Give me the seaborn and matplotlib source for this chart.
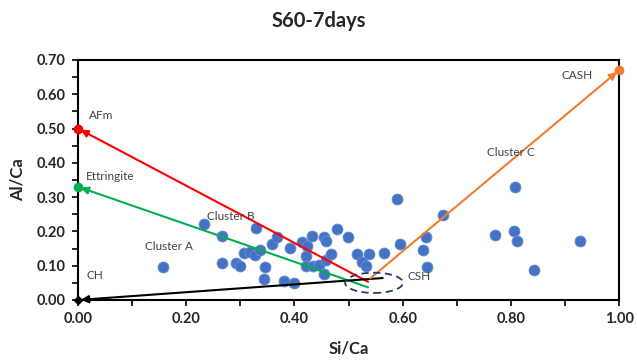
import matplotlib
matplotlib.use("Agg")
import matplotlib.pyplot as plt
from matplotlib.patches import Ellipse
from matplotlib.ticker import MultipleLocator, FormatStrFormatter
import seaborn as sns
import pandas as pd

# EDS spot analyses (Si/Ca, Al/Ca)
si_ca = [0.157, 0.232, 0.266, 0.266, 0.291, 0.299, 0.307, 0.318, 0.327, 0.329,
         0.336, 0.346, 0.344, 0.359, 0.367, 0.381, 0.392, 0.399, 0.414, 0.423,
         0.421, 0.421, 0.432, 0.434, 0.445, 0.455, 0.458, 0.455, 0.458, 0.467,
         0.478, 0.498, 0.516, 0.537, 0.524, 0.532, 0.566, 0.589, 0.595, 0.637,
         0.643, 0.644, 0.675, 0.770, 0.805, 0.808, 0.812, 0.843, 0.928]
al_ca = [0.096, 0.223, 0.187, 0.107, 0.109, 0.098, 0.137, 0.140, 0.131, 0.209,
         0.146, 0.096, 0.062, 0.162, 0.183, 0.056, 0.151, 0.050, 0.170, 0.158,
         0.129, 0.099, 0.187, 0.100, 0.103, 0.184, 0.172, 0.077, 0.117, 0.134,
         0.206, 0.185, 0.134, 0.134, 0.111, 0.100, 0.137, 0.295, 0.163, 0.146,
         0.183, 0.096, 0.248, 0.190, 0.200, 0.330, 0.171, 0.086, 0.171]

# Reference phases: tie lines run from the C-S-H region to each phase
phase_names = ["AFm", "Ettringite", "CH", "CASH"]
phase_x = [0.0, 0.0, 0.0, 1.0]
phase_y = [0.50, 0.33, 0.0, 0.67]
line_start_x = [0.536, 0.536, 0.563, 0.540]
line_start_y = [0.053, 0.037, 0.064, 0.063]
phase_colors = ["#FF0000", "#00B050", "#000000", "#ED7D31"]
phase_markers = ["o", "o", "D", "o"]

# C-S-H region
csh_center = (0.547, 0.050)
csh_size = (0.107, 0.059)

sns.set_style("white")
plt.rcParams["font.family"] = ["Lato", "DejaVu Sans"]

fig = plt.figure(figsize=(6.37, 3.61), dpi=100)
ax = fig.add_axes([0.1225, 0.169, 0.8495, 0.665])

df = pd.DataFrame({"Si/Ca": si_ca, "Al/Ca": al_ca})
sns.scatterplot(data=df, x="Si/Ca", y="Al/Ca", ax=ax, color="#4472C4",
                s=62, edgecolor="#6a8fd3", linewidth=0.6, zorder=3, clip_on=False)

for sx, sy, px, py, c, m in zip(line_start_x, line_start_y, phase_x, phase_y,
                                phase_colors, phase_markers):
    ax.annotate("", xy=(px, py), xytext=(sx, sy),
                arrowprops=dict(arrowstyle="-|>", color=c, lw=1.5,
                                mutation_scale=11, shrinkA=0, shrinkB=2),
                zorder=4, annotation_clip=False)
    ax.plot([px], [py], marker=m, color=c, markersize=6 if m == "o" else 4.5,
            clip_on=False, zorder=5, linestyle="none")

ax.add_patch(Ellipse(csh_center, csh_size[0], csh_size[1], fill=False,
                     edgecolor="#243F66", linestyle=(0, (4, 2.5)), lw=1.3, zorder=4))

label_style = dict(fontsize=8.5, color="#404040", zorder=6)
ax.text(0.021, 0.537, "AFm", va="center", **label_style)
ax.text(0.015, 0.360, "Ettringite", va="center", **label_style)
ax.text(0.015, 0.071, "CH", va="center", **label_style)
ax.text(0.893, 0.656, "CASH", va="center", **label_style)
ax.text(0.608, 0.068, "CSH", va="center", **label_style)
ax.text(0.123, 0.155, "Cluster A", va="center", **label_style)
ax.text(0.238, 0.243, "Cluster B", va="center", **label_style)
ax.text(0.755, 0.430, "Cluster C", va="center", **label_style)

ax.set_xlim(0, 1.0)
ax.set_ylim(0, 0.70)
ax.xaxis.set_major_locator(MultipleLocator(0.2))
ax.xaxis.set_minor_locator(MultipleLocator(0.1))
ax.yaxis.set_major_locator(MultipleLocator(0.1))
ax.yaxis.set_minor_locator(MultipleLocator(0.05))
ax.xaxis.set_major_formatter(FormatStrFormatter("%.2f"))
ax.yaxis.set_major_formatter(FormatStrFormatter("%.2f"))
ax.tick_params(which="both", direction="out", length=4, width=1.2, color="black",
               bottom=True, left=True)
ax.tick_params(which="major", labelsize=10.5, pad=5)
for lab in ax.get_xticklabels() + ax.get_yticklabels():
    lab.set_fontweight("bold")

for sp in ax.spines.values():
    sp.set_visible(True)
    sp.set_color("black")
    sp.set_linewidth(1.5)

ax.set_xlabel("Si/Ca", fontsize=12, fontweight="bold", labelpad=10)
ax.set_ylabel("Al/Ca", fontsize=12, fontweight="bold", labelpad=8)
fig.suptitle("S60-7days", x=0.5, y=0.97, fontsize=14.5, fontweight="bold")

fig.savefig("out.png", dpi=100, facecolor="white")
